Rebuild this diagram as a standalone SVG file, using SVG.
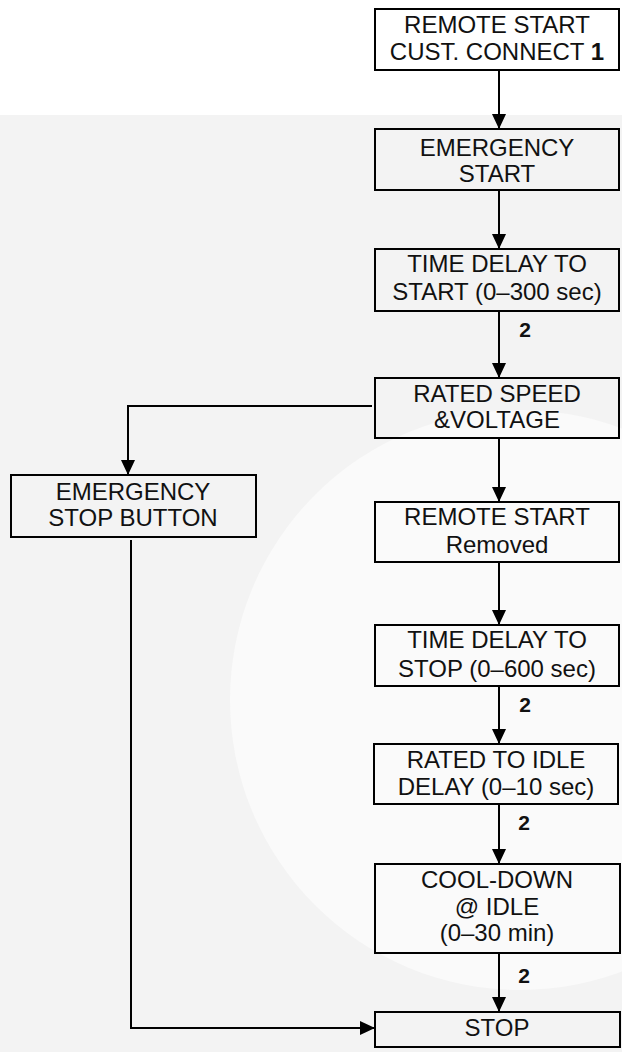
<svg xmlns="http://www.w3.org/2000/svg" width="622" height="1052" viewBox="0 0 622 1052">
<defs>
<style>
.bg{fill:#f3f3f3}
.box{fill:none;stroke:#000;stroke-width:2}
.t{font-family:"Liberation Sans",Arial,sans-serif;font-size:24px;fill:#111;text-anchor:middle}
.n{font-family:"Liberation Sans",Arial,sans-serif;font-size:21px;font-weight:bold;fill:#111;text-anchor:middle}
.c{fill:none;stroke:#000;stroke-width:2}
</style>
<marker id="ah" viewBox="0 0 15 14" refX="15" refY="7" markerWidth="15" markerHeight="14" markerUnits="userSpaceOnUse" orient="auto">
<path d="M0,0 L15,7 L0,14 Z" fill="#000"/>
</marker>
</defs>
<rect width="622" height="1052" fill="#fff"/>
<rect class="bg" x="0" y="115" width="622" height="937"/>
<circle cx="520" cy="700" r="290" fill="#fafafa"/>
<g id="connectors">
<line class="c" x1="499" y1="70" x2="499" y2="129" marker-end="url(#ah)"/>
<line class="c" x1="499" y1="190" x2="499" y2="249" marker-end="url(#ah)"/>
<line class="c" x1="499" y1="311" x2="499" y2="378" marker-end="url(#ah)"/>
<polyline class="c" points="372,406 128,406 128,475" marker-end="url(#ah)"/>
<line class="c" x1="499" y1="438" x2="499" y2="502" marker-end="url(#ah)"/>
<line class="c" x1="499" y1="562" x2="499" y2="625" marker-end="url(#ah)"/>
<line class="c" x1="499" y1="686" x2="499" y2="744" marker-end="url(#ah)"/>
<line class="c" x1="499" y1="804" x2="499" y2="864" marker-end="url(#ah)"/>
<line class="c" x1="499" y1="953" x2="499" y2="1012" marker-end="url(#ah)"/>
<polyline class="c" points="131,540 131,1028 375,1028" marker-end="url(#ah)"/>
<text class="n" x="525" y="337">2</text>
<text class="n" x="525" y="712">2</text>
<text class="n" x="524" y="830">2</text>
<text class="n" x="524" y="983">2</text>
</g>
<g id="remote-start">
<rect class="box" x="375" y="9" width="244" height="61" fill="#fff"/>
<text class="t" x="497" y="33">REMOTE START</text>
<text class="t" x="497" y="60">CUST. CONNECT <tspan font-weight="bold">1</tspan></text>
</g>
<g id="emergency-start">
<rect class="box" x="375" y="129" width="244" height="61"/>
<text class="t" x="497" y="156">EMERGENCY</text>
<text class="t" x="497" y="182">START</text>
</g>
<g id="time-delay-start">
<rect class="box" x="375" y="249" width="244" height="62"/>
<text class="t" x="497" y="272">TIME DELAY TO</text>
<text class="t" x="497" y="300">START (0–300 sec)</text>
</g>
<g id="rated-speed">
<rect class="box" x="375" y="378" width="244" height="60"/>
<text class="t" x="497" y="402">RATED SPEED</text>
<text class="t" x="497" y="428">&amp;VOLTAGE</text>
</g>
<g id="emergency-stop">
<rect class="box" x="11" y="475" width="245" height="62"/>
<text class="t" x="133" y="500">EMERGENCY</text>
<text class="t" x="133" y="526">STOP BUTTON</text>
</g>
<g id="remote-start-removed">
<rect class="box" x="375" y="502" width="244" height="60"/>
<text class="t" x="497" y="525">REMOTE START</text>
<text class="t" x="497" y="553">Removed</text>
</g>
<g id="time-delay-stop">
<rect class="box" x="375" y="625" width="244" height="61"/>
<text class="t" x="497" y="648">TIME DELAY TO</text>
<text class="t" x="497" y="677">STOP (0–600 sec)</text>
</g>
<g id="rated-to-idle">
<rect class="box" x="374" y="744" width="244" height="60"/>
<text class="t" x="496" y="768">RATED TO IDLE</text>
<text class="t" x="496" y="795">DELAY (0–10 sec)</text>
</g>
<g id="cool-down">
<rect class="box" x="375" y="864" width="245" height="89"/>
<text class="t" x="497" y="888">COOL-DOWN</text>
<text class="t" x="497" y="915">@ IDLE</text>
<text class="t" x="497" y="941">(0–30 min)</text>
</g>
<g id="stop">
<rect class="box" x="375" y="1012" width="245" height="35" fill="#f3f3f3"/>
<text class="t" x="497" y="1036">STOP</text>
</g>
</svg>
